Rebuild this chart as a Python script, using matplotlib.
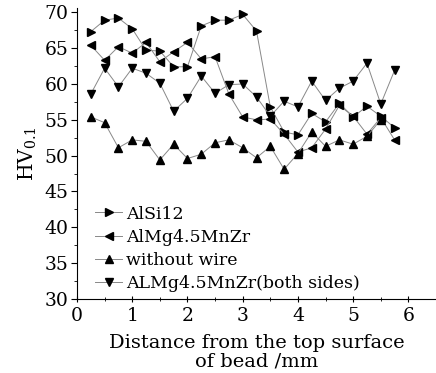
import numpy as np
import matplotlib
matplotlib.use('Agg')
import matplotlib.pyplot as plt
from matplotlib.ticker import MultipleLocator

#Data
dist = [0.25, 0.5, 0.75, 1.0, 1.25, 1.5, 1.75, 2.0, 2.25, 2.5, 2.75, 3.0,
        3.25, 3.5, 3.75, 4.0, 4.25, 4.5, 4.75, 5.0, 5.25, 5.5, 5.75]
alsi12 = [67.3, 68.9, 69.2, 67.7, 64.7, 64.6, 62.4, 62.4, 68.1, 68.9, 68.9, 69.7,
          67.4, 56.8, 53.3, 52.9, 55.9, 54.7, 57.3, 55.4, 56.9, 55.5, 53.9]
almg = [65.4, 63.3, 65.2, 64.3, 65.8, 63.1, 64.5, 65.8, 63.5, 63.8, 58.6, 55.4,
        55.0, 55.1, 53.0, 50.5, 51.1, 53.7, 57.0, 55.5, 53.0, 55.3, 52.2]
nowire = [55.4, 54.6, 51.1, 52.2, 52.0, 49.4, 51.6, 49.6, 50.2, 51.8, 52.2, 51.1,
          49.7, 51.3, 48.1, 50.3, 53.3, 51.3, 52.2, 51.6, 52.7, 55.0]
both = [58.6, 62.2, 59.6, 62.2, 61.5, 60.1, 56.2, 58.0, 61.1, 58.7, 59.9, 60.0,
        58.2, 55.5, 57.6, 56.8, 60.4, 57.7, 59.4, 60.4, 62.9, 57.2, 61.9]

labels = ['AlSi12', 'AlMg4.5MnZr', 'without wire', 'ALMg4.5MnZr(both sides)']
markers = ['>', '<', '^', 'v']

plt.rcParams['font.family'] = 'DejaVu Serif'
plt.rcParams['mathtext.fontset'] = 'dejavuserif'

fig = plt.figure(figsize=(4.36, 3.73), dpi=100)
ax = fig.add_axes([77/436, (373-299)/373, 359/436, 291/373])

series = [alsi12, almg, nowire, both]
for ys, lab, m in zip(series, labels, markers):
    ax.plot(dist[:len(ys)], ys, color='#888888', lw=0.7, marker=m, ms=5.5,
            mfc='black', mec='black', label=lab)

ax.set_xlim(0, 6.5)
ax.set_ylim(30, 70.6)
ax.xaxis.set_major_locator(MultipleLocator(1))
ax.xaxis.set_minor_locator(MultipleLocator(0.5))
ax.yaxis.set_major_locator(MultipleLocator(5))
ax.yaxis.set_minor_locator(MultipleLocator(2.5))
ax.spines['top'].set_visible(False)
ax.spines['right'].set_visible(False)
ax.tick_params(axis='y', which='major', direction='out', length=4, labelsize=13.5, pad=2)
ax.tick_params(axis='y', which='minor', direction='out', length=2)
ax.tick_params(axis='x', which='major', direction='inout', length=5, labelsize=13.5, pad=3)
ax.tick_params(axis='x', which='minor', direction='inout', length=3)

ax.set_xlabel('Distance from the top surface\nof bead /mm', fontsize=14, labelpad=7, linespacing=1.0)
ax.set_ylabel('HV$_{0.1}$', fontsize=14.5, labelpad=4)

ax.legend(loc='upper left', bbox_to_anchor=(0.03, 0.345), frameon=False, fontsize=12.5,
          handlelength=1.6, handletextpad=0.2, labelspacing=0.35, borderaxespad=0)

plt.savefig('out.png', dpi=100)
